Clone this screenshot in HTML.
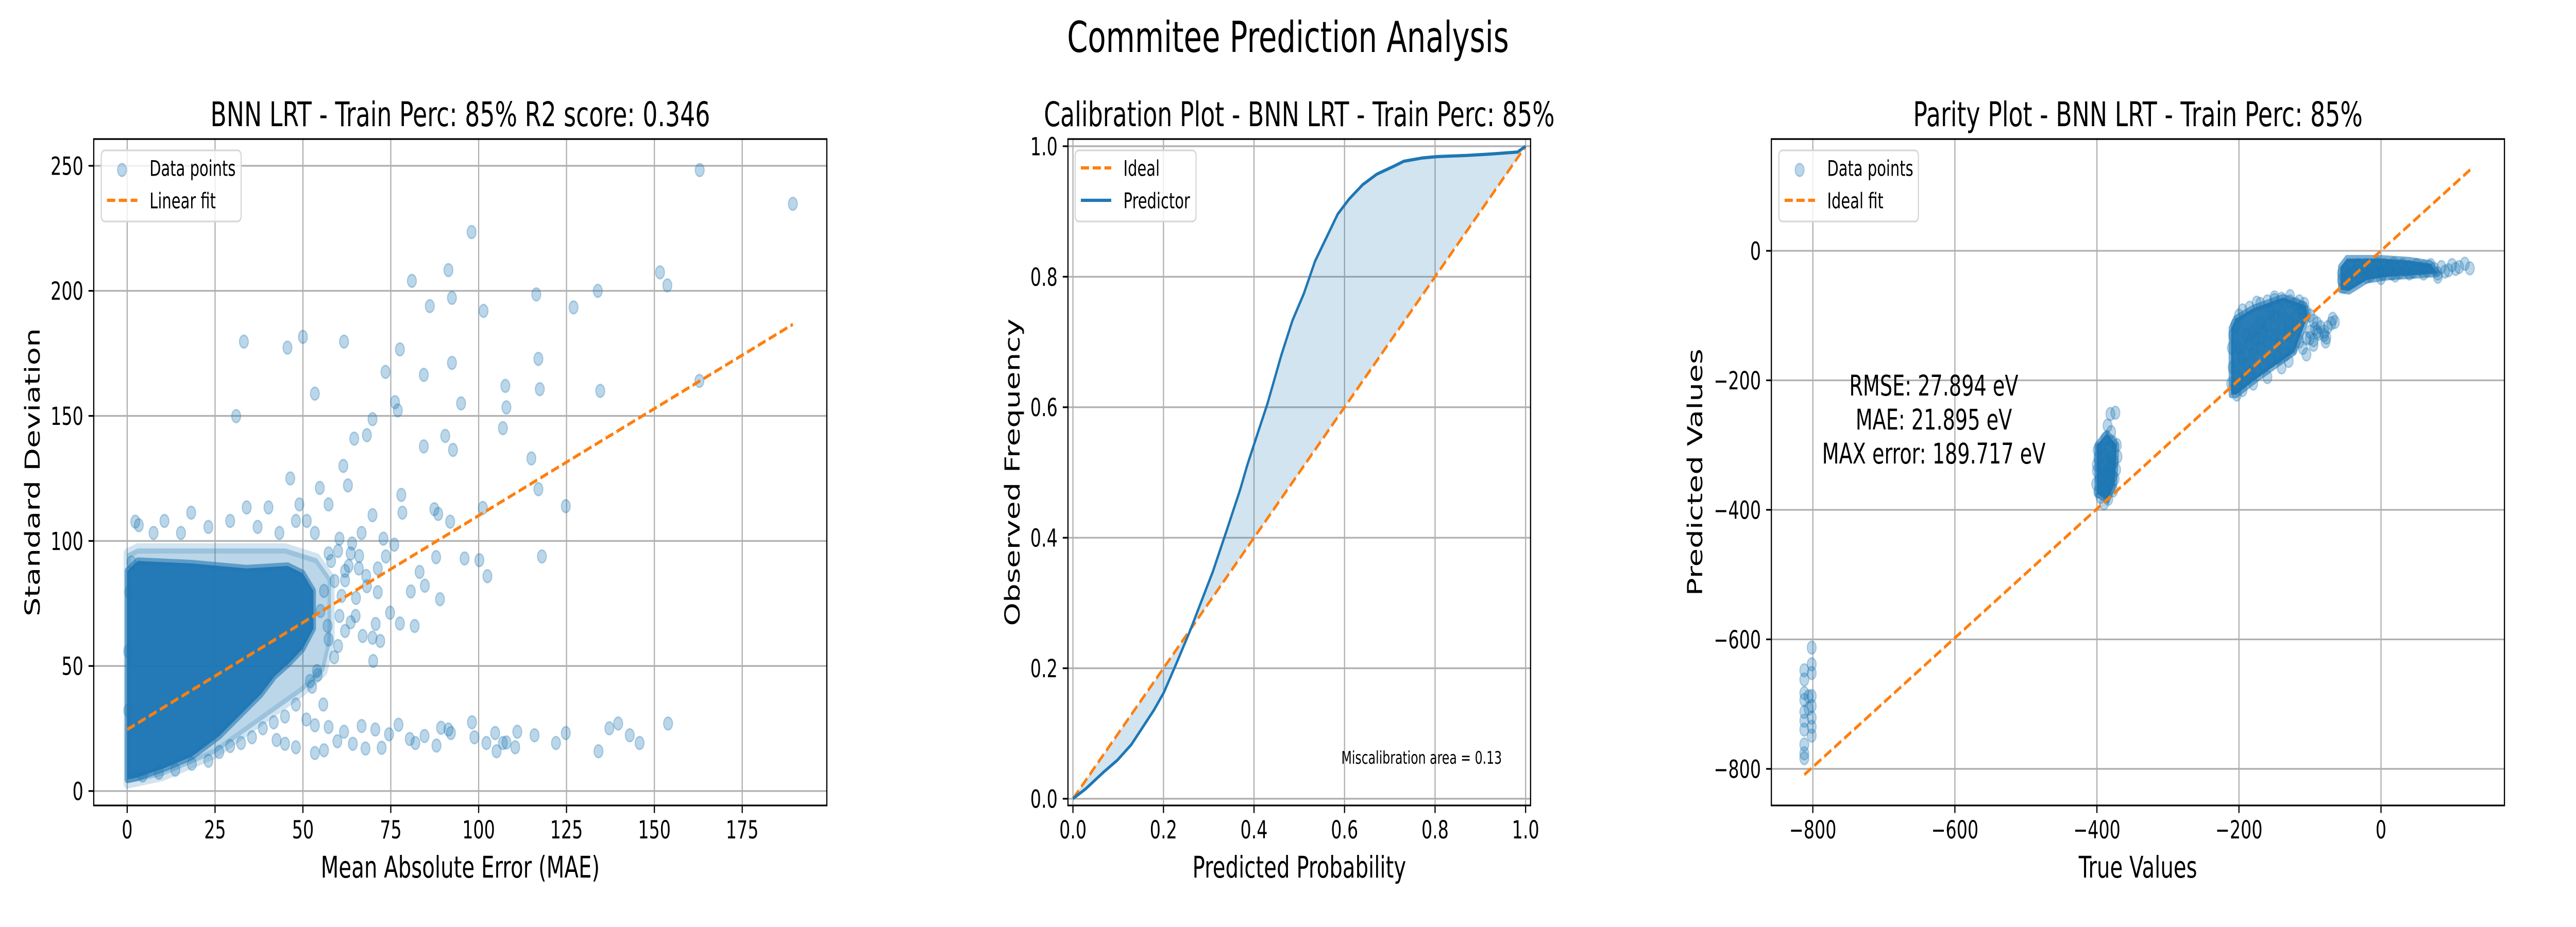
<!DOCTYPE html>
<html><head><meta charset="utf-8">
<style>
html,body{margin:0;padding:0;background:#fff;width:100%;height:100%;overflow:hidden}
#fig{position:absolute;left:0;top:0;width:100vw;height:100vh;display:block}
svg text{font-family:"DejaVu Sans","Liberation Sans",sans-serif;fill:#000}
</style></head>
<body>
<svg id="fig" viewBox="0 0 7200 1800" preserveAspectRatio="none" xmlns="http://www.w3.org/2000/svg">
<rect x="0" y="0" width="7200" height="1800" fill="#fff"/>
<text x="3600" y="101" font-size="83" text-anchor="middle">Commitee Prediction Analysis</text>
</svg>
<script>
// ===== Panel 1 data: MAE vs Standard Deviation =====
const maeX = [162.9,189.4,98,81,91.4,92.4,86.1,101.4,116.4,127,133.9,151.6,153.7,33.2,45.6,50,61.7,77.6,92.4,117,84.4,73.5,107.6,117.4,134.6,162.8,53.4,76.2,77,95,107.9,31,69.8,106.9,64.6,68.2,90.5,84.4,92.7,115,61.5,46.4,62.8,54.8,78,117,124.8,101.2,18.2,34,40.2,49,57.3,87.4,88.5,91.9,78.3,2.3,3.3,118,96,100.2,102.5,83.2,87.9,84.7,89,80.7,81.8,69.8,77.6,74.8,70.7,
51,53.4,57.3,61.7,66.7,70.6,74.5,77.2,80.4,82,84.6,88,89.3,91.4,92.1,98.1,98.8,102.2,104.7,105.1,106.9,107.9,110.4,111,115.9,122,124.8,134.1,137.2,139.7,143,145.8,153.9,53.4,56,59.8,64.2,67.8,72.4,48,44.9,42.5,
51.1,53.4,57.3,60.4,63.6,65.9,62,65.1,60.4,57.3,58.9,54.2,52.6,55.8,63.6,66.7,69.8,72.9,73.6,71.3,68.2,71.3,76,48,44.9,41.7,38.6,35.5,32.4,29.3,26.2,23.1,18.4,13.7,9,4.4,10.6,15.3,23.1,29.3,37.1,43.3,48,7.5,1.2,0.6,0.3,0.3,
58,60,62,64,56,59,61,63,66,68,55,57,60,62,65,67,70,72,54,52];
const stdY = [248.3,234.8,223.5,204,208.3,197.2,193.9,192,198.6,193.4,200,207.4,202.2,179.7,177.3,181.6,179.7,176.6,171.2,172.8,166.4,167.6,162,160.7,160,164,158.9,155.5,152.2,155,153.4,149.9,148.7,145.1,140.9,142.3,142,137.8,136.4,133,130,125,122.2,121.2,118.4,120.7,113.9,113.2,111.3,113.4,113.4,114.6,114.6,112.7,110.8,107.7,111.3,107.7,106.3,93.8,93,92.3,85.9,87.6,93.5,82.1,76.7,79.8,66,61.3,67,71.3,66.8,
28.6,26.3,25.6,23.7,26,24.6,22.7,26.5,20.8,19.2,22,18.2,25.3,24.6,23.2,27.5,21.5,19.2,23.2,15.9,19.2,19.4,17.5,23.7,22.3,19.2,23.2,15.9,25.1,27,22.3,19.2,27,15.2,16.3,19.9,18.9,17,17.3,17.5,18.9,20.4,
108,103.2,95,100.9,95,89,84.3,77.2,70,60.6,53.5,46.4,41.7,34.6,67.5,103.2,110.3,100.9,93.8,89,81.9,79.5,98.5,34.6,29.8,27.5,25.1,21.5,19.2,18,15.6,12.1,10.9,8.5,7.3,6.2,108,103.2,105.6,108,105.6,103.2,108,103.2,91.4,79.5,55.9,32.2,
92,96,88,99,80,84,78,90,94,86,72,66,58,64,70,62,52,60,48,44];
// Dense core of the point cloud (saturated overlap region), data coordinates
const maeCoreX = [0,3,10.7,18.4,26.2,34,38,42,46,50,53,53,50,45.7,34,18.4,3,0];
const stdCoreY = [4.6,5.5,9.2,13.8,22,33,38.6,46,51,57,65,80,87,90,89,91,92,88];
const maeHaloX = [0,10,25,40,50,56,58,58,54,45,20,3,0];
const stdHaloY = [3,6,15,30,40,48,60,85,93,97,97,97,95];
const linFitX = [0,189.4];
const linFitY = [24.6,186.6];
const p1XTicks = [0,25,50,75,100,125,150,175];
const p1YTicks = [0,50,100,150,200,250];

// ===== Panel 2 data: calibration =====
const calProbX = [0,0.028,0.068,0.098,0.129,0.179,0.201,0.229,0.259,0.279,0.309,0.34,0.37,0.385,0.4,0.43,0.46,0.485,0.51,0.535,0.56,0.585,0.61,0.64,0.671,0.711,0.731,0.772,0.802,0.872,0.922,0.982,1.0];
const calFreqY = [0,0.015,0.041,0.059,0.083,0.136,0.163,0.208,0.258,0.294,0.348,0.412,0.475,0.511,0.543,0.606,0.679,0.733,0.774,0.824,0.86,0.896,0.919,0.941,0.957,0.970,0.977,0.982,0.984,0.986,0.988,0.991,1.0];
const idealX = [0,1];
const idealY = [0,1];
const p2Ticks = [0,0.2,0.4,0.6,0.8,1.0];
const p2TickLabels = ["0.0","0.2","0.4","0.6","0.8","1.0"];

// ===== Panel 3 data: parity =====
const trueX = [-801.6,-812,-801.6,-801.6,-812,-812,-801.6,-812,-801.6,-812,-801.6,-812,-801.6,-812,-801.6,-812,-812,-812,-806,-806,
-381,-374,-385,-380,-388,-378,-395,-383,-372,-390,-380,-398,-386,-376,-394,-383,-373,-400,-389,-378,-396,-385,-375,-401,-391,-381,-398,-387,-377,-395,-384,-390,-399,-400,-382,-392,-388,-379,-371,-393,
-211,-209,-210,-208,-205,-200,-195,-185,-170,-160,-150,-140,-128,-120,-112,-105,-100,-95,-90,-85,-80,-78,-68,-70,-75,-88,-95,-105,-115,-125,-135,-145,-155,-165,-175,-185,-195,-205,-200,-190,-180,-170,-160,-150,-140,-130,-120,-110,-150,-170,-190,-200,-180,-160,-140,-196,-186,-176,-166,-156,-130,-120,-145,-100,-93,-65,-77,-80,-90,-100,-110,-95,-105,-130,-140,-160,-180,-195,-203,-175,-150,-128,-115,-108,
-55,-55,-52,-50,-48,-45,-42,-40,-38,-35,-32,-30,-27,-24,-20,-18,-15,-12,-8,-5,-2,2,5,8,12,15,18,22,26,30,35,40,45,50,55,60,65,70,75,80,85,90,95,100,105,110,118,125,-20,0,20,40,60,80];
const predY = [-612.8,-647.7,-638.5,-652,-662,-683,-687.5,-693.6,-702.8,-712,-721,-725.7,-735,-739.4,-748.6,-762.4,-776,-783.5,-707,-688,
-252,-250,-270,-280,-290,-295,-305,-305,-300,-315,-318,-320,-325,-325,-335,-335,-338,-340,-345,-348,-352,-355,-352,-360,-362,-365,-372,-372,-370,-380,-383,-390,-308,-330,-345,-350,-365,-332,-318,-342,
-205,-180,-150,-130,-115,-100,-92,-88,-82,-78,-76,-74,-78,-82,-88,-95,-100,-108,-112,-118,-125,-140,-105,-112,-118,-128,-138,-135,-140,-150,-160,-165,-170,-178,-185,-190,-200,-210,-195,-175,-160,-150,-140,-130,-118,-110,-100,-96,-100,-110,-130,-150,-125,-115,-95,-165,-145,-135,-125,-95,-130,-120,-145,-125,-120,-110,-134,-130,-125,-135,-150,-145,-160,-170,-180,-195,-205,-215,-222,-80,-72,-70,-78,-82,
-35,-45,-55,-30,-40,-50,-25,-35,-45,-30,-22,-40,-28,-35,-22,-30,-38,-25,-32,-20,-28,-35,-22,-30,-25,-35,-20,-28,-33,-22,-30,-25,-32,-22,-28,-25,-30,-22,-28,-35,-25,-32,-30,-22,-28,-25,-20,-27,-40,-42,-38,-35,-35,-40];
// Dense cores of the clusters (saturated overlap regions)
const coreCX = [-211,-211,-205,-180,-138,-107,-103,-122,-153,-177,-204];
const coreCY = [-222,-120,-105,-89,-72,-84,-101,-156,-180,-199,-222];
const coreDX = [-57,-57,-48,0,40,70,80,40,10,-20,-45];
const coreDY = [-60,-25,-12,-12,-15,-20,-35,-38,-40,-45,-62];
const coreBX = [-400,-386,-372,-375,-385,-400];
const coreBY = [-300,-282,-300,-360,-385,-375];
const parityFitX = [-812,126];
const parityFitY = [-809,125.7];
const p3Ticks = [-800,-600,-400,-200,0];
const p3TickLabels = ["\u2212800","\u2212600","\u2212400","\u2212200","0"];

const NS = "http://www.w3.org/2000/svg";
const svg = document.getElementById('fig');
const BLUE = "#1f77b4", ORANGE = "#ff7f0e";
function mk(tag, attrs, parent){ const e=document.createElementNS(NS,tag); for(const k in attrs) e.setAttribute(k,attrs[k]); (parent||svg).appendChild(e); return e; }
function scale(d0,d1,p0,p1){ return v => p0 + (v-d0)/(d1-d0)*(p1-p0); }

const T=270, B=1564;
const panels = [
  {L:262,R:2311,xmin:-9.52,xmax:199.07,ymin:-5.77,ymax:260.7},
  {L:2985,R:4278,xmin:-0.011,xmax:1.011,ymin:-0.0103,ymax:1.011},
  {L:4951,R:7000,xmin:-858.4,xmax:173.8,ymin:-856.5,ymax:172.6}
];
panels.forEach(p=>{ p.sx=scale(p.xmin,p.xmax,p.L,p.R); p.sy=scale(p.ymin,p.ymax,B,T); });

function drawGridTicks(p, g, xt, xl, yt, yl){
  xt.forEach((v,i)=>{
    const x=p.sx(v);
    const gl=mk('line',{x1:x,x2:x,y1:T,y2:B,stroke:"#b0b0b0","stroke-width":3.3},g);
    
    
    const tk=mk('line',{x1:x,x2:x,y1:B,y2:B+14.6,stroke:"#000","stroke-width":3.3},g);
    
    
    const t=mk('text',{x:x,y:1628,"font-size":48,"text-anchor":"middle"},g);
    t.textContent=xl[i];
    
    
  });
  yt.forEach((v,i)=>{
    const y=p.sy(v);
    const gl=mk('line',{x1:p.L,x2:p.R,y1:y,y2:y,stroke:"#b0b0b0","stroke-width":3.3},g);
    
    
    const tk=mk('line',{x1:p.L-14.6,x2:p.L,y1:y,y2:y,stroke:"#000","stroke-width":3.3},g);
    
    
    const t=mk('text',{x:p.L-29,y:y+17.5,"font-size":48,"text-anchor":"end"},g);
    t.textContent=yl[i];
    
    
  });
}
function frame(p,g){
  const r=mk('rect',{x:p.L,y:T,width:p.R-p.L,height:B-T,fill:"none",stroke:"#000","stroke-width":3.3},g);
  
  
}
function titles(p,g,title,xlab,ylab,ylx){
  const cx=(p.L+p.R)/2;
  const t=mk('text',{x:cx,y:245,"font-size":66,"text-anchor":"middle"},g);
  t.textContent=title;
  
  
  const xl=mk('text',{x:cx,y:1704,"font-size":58,"text-anchor":"middle"},g);
  xl.textContent=xlab;
  
  
  const cy=(T+B)/2;
  const yl=mk('text',{x:ylx,y:cy,"font-size":58,"text-anchor":"middle",dy:"0.36em",transform:`rotate(-90 ${ylx} ${cy})`},g);
  yl.textContent=ylab;
  
  
}
function poly(p,xs,ys,attrs,g){
  const pts=xs.map((x,i)=>p.sx(x).toFixed(1)+","+p.sy(ys[i]).toFixed(1)).join(" ");
  return mk('polygon',Object.assign({points:pts},attrs),g);
}
function scatter(p,xs,ys,g){
  xs.forEach((x,i)=>{
    const c=mk('circle',{cx:p.sx(x),cy:p.sy(ys[i]),r:12.5,fill:BLUE,"fill-opacity":0.3,stroke:BLUE,"stroke-opacity":0.3,"stroke-width":3},g);
    
    
  });
}
function legend(g,L,rows){
  const box=mk('rect',{x:L,y:292,width:rows.w,height:138,rx:10,fill:"#fff","fill-opacity":0.8,stroke:"#d6d6d6","stroke-width":3.3},g);
  
  
  rows.items.forEach((it,i)=>{
    const yc=i===0?326:389, yb=i===0?341.6:404.7;
    let h;
    if(it.kind==='dot'){ h=mk('circle',{cx:L+58,cy:330,r:12.5,fill:BLUE,"fill-opacity":0.3,stroke:BLUE,"stroke-opacity":0.3,"stroke-width":3},g); }
    else if(it.kind==='dash'){ h=mk('line',{x1:L+16,x2:L+101,y1:yc,y2:yc,stroke:ORANGE,"stroke-width":6.25,"stroke-dasharray":"23 10"},g); }
    else { h=mk('line',{x1:L+16,x2:L+101,y1:yc,y2:yc,stroke:BLUE,"stroke-width":6.25},g); }
    
    
    const t=mk('text',{x:L+135,y:yb,"font-size":41.7},g);
    t.textContent=it.label;
    
    
  });
}

// ---- Panel 1 ----
{
  const p=panels[0];
  const g=mk('g',{});  
  drawGridTicks(p,g,p1XTicks,p1XTicks.map(String),p1YTicks,p1YTicks.map(String));
  const halo=poly(p,maeHaloX,stdHaloY,{fill:BLUE,"fill-opacity":0.3,stroke:BLUE,"stroke-opacity":0.2,"stroke-width":20,"stroke-linejoin":"round"},g);
  
  
  const core=poly(p,maeCoreX,stdCoreY,{fill:BLUE,"fill-opacity":0.97,stroke:BLUE,"stroke-opacity":0.6,"stroke-width":14,"stroke-linejoin":"round"},g);
  
  
  scatter(p,maeX,stdY,g);
  const fl=mk('line',{x1:p.sx(linFitX[0]),y1:p.sy(linFitY[0]),x2:p.sx(linFitX[1]),y2:p.sy(linFitY[1]),stroke:ORANGE,"stroke-width":6.25,"stroke-dasharray":"23 10"},g);
  
  
  frame(p,g);
  titles(p,g,"BNN LRT - Train Perc: 85% R2 score: 0.346","Mean Absolute Error (MAE)","Standard Deviation",90);
  legend(g,283,{w:391,items:[{kind:'dot',label:'Data points'},{kind:'dash',label:'Linear fit'}]});
}
// ---- Panel 2 ----
{
  const p=panels[1];
  const g=mk('g',{});  
  drawGridTicks(p,g,p2Ticks,p2TickLabels,p2Ticks,p2TickLabels);
  const fillPts=calProbX.map((x,i)=>p.sx(x).toFixed(1)+","+p.sy(calFreqY[i]).toFixed(1)).concat(idealX.slice().reverse().map((x,i)=>p.sx(x).toFixed(1)+","+p.sy(idealY.slice().reverse()[i]).toFixed(1))).join(" ");
  const fa=mk('polygon',{points:fillPts,fill:BLUE,"fill-opacity":0.2},g);
  
  
  const il=mk('line',{x1:p.sx(idealX[0]),y1:p.sy(idealY[0]),x2:p.sx(idealX[1]),y2:p.sy(idealY[1]),stroke:ORANGE,"stroke-width":6.25,"stroke-dasharray":"23 10"},g);
  
  
  const pl=mk('polyline',{points:calProbX.map((x,i)=>p.sx(x).toFixed(1)+","+p.sy(calFreqY[i]).toFixed(1)).join(" "),fill:"none",stroke:BLUE,"stroke-width":6.25,"stroke-linejoin":"round"},g);
  
  
  const mt=mk('text',{x:3749,y:1483,"font-size":34},g);
  mt.textContent="Miscalibration area = 0.13";
  
  
  frame(p,g);
  titles(p,g,"Calibration Plot - BNN LRT - Train Perc: 85%","Predicted Probability","Observed Frequency",2829);
  legend(g,3005,{w:338,items:[{kind:'dash',label:'Ideal'},{kind:'line',label:'Predictor'}]});
}
// ---- Panel 3 ----
{
  const p=panels[2];
  const g=mk('g',{});  
  drawGridTicks(p,g,p3Ticks,p3TickLabels,p3Ticks,p3TickLabels);
  [[coreCX,coreCY,'cluster-core-c'],[coreDX,coreDY,'cluster-core-d'],[coreBX,coreBY,'cluster-core-b']].forEach(c=>{
    const e=poly(p,c[0],c[1],{fill:BLUE,"fill-opacity":0.95,stroke:BLUE,"stroke-opacity":0.6,"stroke-width":14,"stroke-linejoin":"round"},g);
    
    
  });
  scatter(p,trueX,predY,g);
  const fl=mk('line',{x1:p.sx(parityFitX[0]),y1:p.sy(parityFitY[0]),x2:p.sx(parityFitX[1]),y2:p.sy(parityFitY[1]),stroke:ORANGE,"stroke-width":6.25,"stroke-dasharray":"23 10"},g);
  
  
  const stats=["RMSE: 27.894 eV","MAE: 21.895 eV","MAX error: 189.717 eV"];
  stats.forEach((s,i)=>{
    const t=mk('text',{x:5405,y:768+66*i,"font-size":55,"text-anchor":"middle"},g);
    t.textContent=s;
    
    
  });
  frame(p,g);
  titles(p,g,"Parity Plot - BNN LRT - Train Perc: 85%","True Values","Predicted Values",4737);
  legend(g,4972,{w:390,items:[{kind:'dot',label:'Data points'},{kind:'dash',label:'Ideal fit'}]});
}
</script>
</body></html>
